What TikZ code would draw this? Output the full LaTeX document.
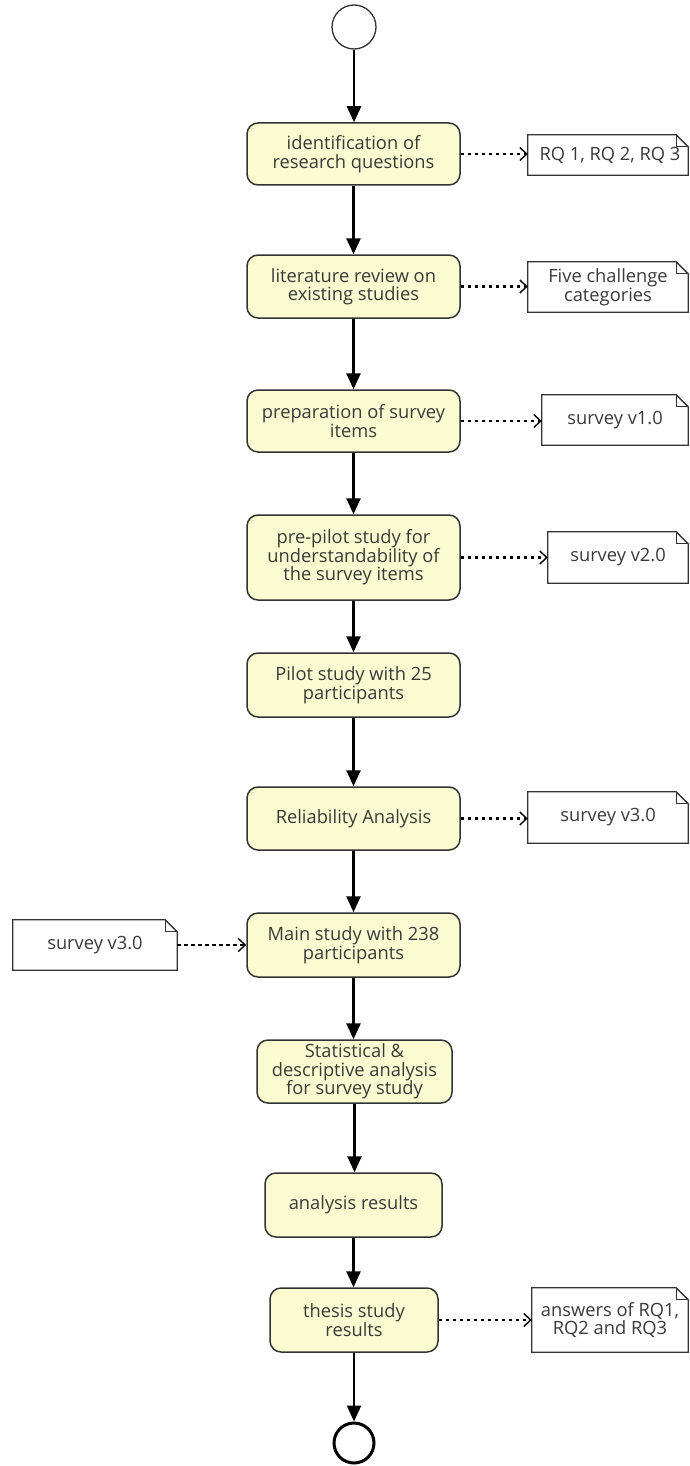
\documentclass[tikz,border=0pt]{standalone}
\usepackage{fontspec}
\setmainfont{Open Sans}
\usetikzlibrary{arrows.meta}
\definecolor{boxfill}{HTML}{FBFBD2}
\definecolor{boxline}{HTML}{333333}
\definecolor{txt}{HTML}{3A3A3A}
\tikzset{
  act/.style={draw=boxline, line width=1.5pt, rounded corners=11pt, fill=boxfill,
    align=center, text=txt, font=\fontsize{18.3}{18.5}\selectfont, inner sep=0pt},
  notebox/.style={align=center, text=txt, font=\fontsize{18.3}{18.5}\selectfont, inner sep=0pt},
  noteline/.style={draw=boxline, line width=1.3pt, fill=white, line join=miter},
  flow/.style={draw=black, line width=2.6pt, -{Triangle[length=16pt,width=14pt]}},
  dep/.style={draw=black, line width=2.4pt, dash pattern=on 3.5pt off 3.5pt,
    -{Straight Barb[length=7pt,width=13pt,line width=1.4pt]}},
}
\begin{document}
\begin{tikzpicture}[x=1pt,y=-1pt]
\useasboundingbox[fill=white] (0,0) rectangle (689,1466);

% start / end
\node[circle, draw=boxline, line width=1.3pt, minimum size=44pt, inner sep=0pt] (start) at (354,27) {};
\node[circle, draw=black, line width=3pt, minimum size=40pt, inner sep=0pt] (stop) at (354,1443) {};

% activities
\node[act, minimum width=213pt, minimum height=62pt] (b1) at (353.5,154) {identification of\\research questions};
\node[act, minimum width=213pt, minimum height=63pt] (b2) at (353.5,286.5) {literature review on\\existing studies};
\node[act, minimum width=213pt, minimum height=62pt] (b3) at (353.5,421) {preparation of survey\\items};
\node[act, minimum width=213pt, minimum height=85pt] (b4) at (353.5,557.5) {pre-pilot study for\\understandability of\\the survey items};
\node[act, minimum width=213pt, minimum height=64pt] (b5) at (353.5,685) {Pilot study with 25\\participants};
\node[act, minimum width=213pt, minimum height=63pt] (b6) at (353.5,818.5) {Reliability Analysis};
\node[act, minimum width=213pt, minimum height=64pt] (b7) at (353.5,945) {Main study with 238\\participants};
\node[act, minimum width=195pt, minimum height=63pt] (b8) at (354.5,1071.5) {Statistical \&\\descriptive analysis\\for survey study};
\node[act, minimum width=177pt, minimum height=64pt] (b9) at (353.5,1205) {analysis results};
\node[act, minimum width=168pt, minimum height=64pt] (b10) at (354,1320) {thesis study\\results};

% notes
\node[notebox, minimum width=160pt, minimum height=40pt] (n1) at (608,155) {};
\node[notebox, minimum width=160pt, minimum height=50pt] (n2) at (608,287) {};
\node[notebox, minimum width=146pt, minimum height=50pt] (n3) at (615,420) {};
\node[notebox, minimum width=140pt, minimum height=51pt] (n4) at (618,557.5) {};
\node[notebox, minimum width=160pt, minimum height=51pt] (n6) at (608,817.5) {};
\node[notebox, minimum width=164pt, minimum height=50pt] (n7) at (95,945) {};
\node[notebox, minimum width=156pt, minimum height=64pt] (n10) at (610,1320) {};
\foreach \n in {n1,n2,n3,n4,n6,n7,n10}{
  \draw[noteline] (\n.south west) -- (\n.north west) -- ([xshift=-12pt]\n.north east)
    -- ([yshift=-12pt]\n.north east) -- (\n.south east) -- cycle;
  \draw[noteline, fill=none] ([xshift=-12pt]\n.north east) -- ([xshift=-12pt,yshift=-12pt]\n.north east)
    -- ([yshift=-12pt]\n.north east);
}
\node[notebox] at ([xshift=2pt]n1.center) {RQ 1, RQ 2, RQ 3};
\node[notebox] at (n2) {Five challenge\\categories};
\node[notebox] at (n3) {survey v1.0};
\node[notebox] at (n4) {survey v2.0};
\node[notebox] at (n6) {survey v3.0};
\node[notebox] at (n7) {survey v3.0};
\node[notebox] at (n10) {answers of RQ1,\\RQ2 and RQ3};

% control flow
\draw[flow] (start.south) -- (start.south |- b1.north);
\draw[flow] (b1.south) -- (b1.south |- b2.north);
\draw[flow] (b2.south) -- (b2.south |- b3.north);
\draw[flow] (b3.south) -- (b3.south |- b4.north);
\draw[flow] (b4.south) -- (b4.south |- b5.north);
\draw[flow] (b5.south) -- (b5.south |- b6.north);
\draw[flow] (b6.south) -- (b6.south |- b7.north);
\draw[flow] (b7.south) -- (b7.south |- b8.north);
\draw[flow] (b8.south) -- (b8.south |- b9.north);
\draw[flow] (b9.south) -- (b9.south |- b10.north);
\draw[flow] (b10.south) -- (b10.south |- stop.north);

% dependencies
\draw[dep] (b1.east) -- (b1.east -| n1.west);
\draw[dep] (b2.east) -- (b2.east -| n2.west);
\draw[dep] (b3.east) -- (b3.east -| n3.west);
\draw[dep] (b4.east) -- (b4.east -| n4.west);
\draw[dep] (b6.east) -- (b6.east -| n6.west);
\draw[dep] (n7.east) -- (n7.east -| b7.west);
\draw[dep] (b10.east) -- (b10.east -| n10.west);
\end{tikzpicture}
\end{document}
